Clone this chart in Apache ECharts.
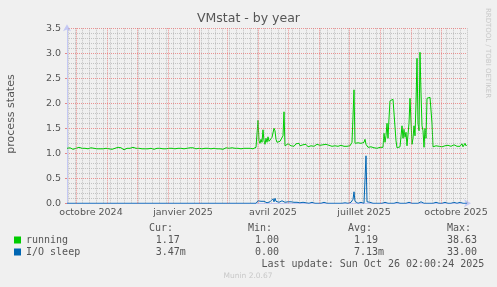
<!DOCTYPE html>
<html><head><meta charset="utf-8">
<script src="https://cdn.jsdelivr.net/npm/echarts@6/dist/echarts.min.js"></script>
<style>html,body{margin:0;padding:0;background:#f0f0f0}#c{width:497px;height:287px}</style>
</head><body><div id="c"></div><script>
// first day of the plotted range (one value per day)
const startDate = [2024, 8, 22];

// running (process states per day)
const running = [
1.10,1.09,1.10,1.11,1.09,1.10,1.08,1.10,1.11,1.10,
1.09,1.10,1.12,1.10,1.09,1.10,1.08,1.09,1.10,1.11,
1.10,1.09,1.08,1.10,1.11,1.10,1.09,1.10,1.10,1.08,
1.09,1.11,1.10,1.09,1.10,1.12,1.09,1.10,1.08,1.10,
1.11,1.10,1.09,1.10,1.09,1.08,1.10,1.11,1.10,1.09,
1.10,1.12,1.10,1.09,1.11,1.10,1.08,1.07,1.09,1.10,
1.10,1.11,1.09,1.10,1.08,1.10,1.12,1.10,1.09,1.10,
1.11,1.09,1.10,1.08,1.10,1.09,1.11,1.10,1.09,1.10,
1.08,1.09,1.10,1.11,1.10,1.09,1.07,1.08,1.09,1.10,
1.10,1.11,1.09,1.10,1.08,1.10,1.09,1.11,1.10,1.09,
1.10,1.08,1.10,1.11,1.09,1.10,1.10,1.12,1.09,1.10,
1.11,1.10,1.08,1.09,1.10,1.10,1.11,1.09,1.10,1.08,
1.10,1.09,1.10,1.11,1.10,1.09,1.11,1.12,1.10,1.09,
1.07,1.09,1.10,1.10,1.11,1.09,1.10,1.08,1.10,1.11,
1.09,1.10,1.10,1.12,1.09,1.10,1.08,1.10,1.11,1.10,
1.09,1.10,1.11,1.09,1.10,1.10,1.08,1.09,1.10,1.11,
1.10,1.09,1.10,1.08,1.10,1.11,1.10,1.09,1.10,1.12,
1.09,1.10,1.08,1.10,1.09,1.10,1.11,1.10,1.09,1.10,
1.10,1.08,1.09,1.10,1.11,1.10,1.09,1.10,1.08,1.12,
1.14,
1.66,1.25,1.20,1.28,1.22,1.47,1.25,1.18,1.30,1.22,
1.33,1.24,1.28,1.20,1.32,1.30,1.50,1.45,1.28,1.22,
1.26,1.20,1.24,1.22,1.28,1.35,1.83,
1.15,1.18,1.16,1.19,1.17,1.20,1.15,1.16,1.18,1.14,
1.17,1.19,1.16,1.18,1.20,1.15,1.13,1.16,1.17,1.14,
1.15,1.18,1.16,1.13,1.14,1.17,1.15,1.19,1.16,1.14,
1.17,1.15,1.18,1.16,1.14,1.16,1.19,1.15,1.17,1.16,
1.14,1.18,1.15,1.17,1.16,1.19,1.15,1.14,1.17,1.16,
1.15,1.18,1.16,1.14,1.17,1.15,1.16,1.13,1.12,1.14,
1.15,1.13,1.14,1.12,1.13,1.15,1.18,1.22,1.24,
2.27,
1.20,1.22,1.18,1.21,1.19,1.17,1.20,1.18,1.16,1.22,1.28,1.18,1.14,
1.12,1.10,1.11,1.13,1.10,1.12,1.11,1.09,1.12,1.10,1.13,1.11,1.12,1.10,1.13,1.12,
1.40,1.22,1.35,1.60,1.30,1.70,2.05,2.06,2.05,2.08,2.12,2.10,1.25,1.11,
1.12,1.10,1.13,1.11,
1.55,1.30,1.48,1.32,1.42,1.15,1.13,
1.60,2.10,2.08,1.18,1.30,1.55,1.35,2.00,2.90,1.60,
1.45,3.02,2.20,1.55,1.45,1.12,1.50,1.30,2.10,2.14,
2.14,2.12,2.13,1.60,1.13,
1.14,1.16,1.15,1.13,1.15,1.14,1.16,1.15,1.13,1.14,
1.16,1.15,1.14,1.15,1.16,1.17,1.15,1.14,1.16,1.15,
1.17,1.16,1.15,1.14,1.16,1.15,1.14,1.17,1.19,1.13,
1.16,1.20,1.15,1.17
];

// I/O sleep (process states per day)
const ioSleep = [
0,0,0,0,0,0,0,0,0,0, 0,0,0,0,0,0,0,0,0,0, 0,0,0,0,0,0,0,0,0,0, 0,0,0,0,0,0,0,0,0,0,
0,0,0,0,0,0,0,0,0,0, 0,0,0,0,0,0,0,0,0,0, 0,0,0,0,0,0,0,0,0,0, 0,0,0,0,0,0,0,0,0,0,
0,0,0,0,0,0,0,0,0,0, 0,0,0,0,0,0,0,0,0,0, 0,0,0,0,0,0,0,0,0,0, 0,0,0,0,0,0,0,0,0,0,
0,0,0,0,0,0,0,0,0,0, 0,0,0,0,0,0,0,0,0,0, 0,0,0,0,0,0,0,0,0,0, 0,0,0,0,0,0,0,0,0,0,
0,0,0,0,0,0,0,0,0,0, 0,0,0,0,0,0,0,0,0,0, 0,0,0,0,0,0,0,0,0,0,
0.02,0.05,0.04,0.03,0.04,0.05,0.03,0.04,0.03,0.02,
0.01,0,0.02,0.03,0.02,0.04,0.09,0.03,0.10,0.04,
0.08,0.03,0.02,0.01,0.03,0.05,0.09,0.03,0.02,0.04,
0.02,0.03,0.01,0.02,0.03,0.01,0.02,0.02,0.01,0.03,
0.02,0,0.02,0.01,0.02,
0.02,0.02,0,0,0.01,0.02,0.02,0,0,0,
0.02,0.03,0.02,0,0,0,0,0.02,0.02,0,
0,0,0.02,0.02,0.01,0,0,0,0,0.02,
0.03,0,0,0,0,0.02,0.02,0,0,0,
0,0.02,0.02,0.01,0,0,0,0,0.02,0.02,
0.03,0.08,
0.23,
0.04,0.02,0,0,0,0,0.02,0.02,0,0,0.01,
0.95,
0.03,0,0,0.02,0.02,0.02,0,0,0,0,
0,0,0,0,0,0,0,0.02,0.02,0.02,
0.02,0,0,0,0,0,0,0,0,0.02,
0.02,0.03,0.02,0,0,0,0,0,0,0,
0,0.02,0.02,0.02,0,0,0,0,0,0,
0,0,0,0.02,0.03,0.02,0.02,0,0,0,
0,0,0,0,0,0,0,0,0.02,0.02,
0.02,0,0,0,0,0,0,0.02,0.02,0.02,
0,0,0,0,0,0.02,0.02,0.02,0,0,
0,0,0,0.02,0.02,0.03,0,0,0,0,
0
];

// x tick labels (centred mid-month, as rrdtool does)
const tickLabels = {
  '2024-10-16': 'octobre 2024',
  '2025-01-16': 'janvier 2025',
  '2025-04-16': 'avril 2025',
  '2025-07-16': 'juillet 2025',
  '2025-10-16': 'octobre 2025'
};
const yTicks = [0, 0.5, 1, 1.5, 2, 2.5, 3, 3.5];

const seriesNames = ['running', 'I/O sleep'];
const seriesColors = ['#00cc00', '#0066b3'];
const statHeads = ['Cur:', 'Min:', 'Avg:', 'Max:'];
const statsRunning = ['1.17', '1.00', '1.19', '38.63'];
const statsIo = ['3.47m', '0.00', '7.13m', '33.00'];

const t0 = Date.UTC(startDate[0], startDate[1], startDate[2]);
const days = running.map((_, i) => new Date(t0 + i * 86400000));
const categories = days.map(d => d.toISOString().slice(0, 10));
const isMonthStart = i => !!days[i] && days[i].getUTCDate() === 1;
const isMonday = i => !!days[i] && days[i].getUTCDay() === 1;
const monthStarts = categories.filter((c, i) => isMonthStart(i));
const mondays = categories.filter((c, i) => isMonday(i) && !isMonthStart(i));

const mono = 'DejaVu Sans Mono';
const sans = 'DejaVu Sans';
const txt = '#555';
const statX = [149, 248, 348, 447];
const valX = [[155.7, 255, 354, 447], [155.7, 255, 354, 447]];

function t(x, y, text, font, fill, align, rot) {
  return { type: 'text', x: x, y: y, rotation: rot || 0, silent: true,
    style: { text: text, font: font, fill: fill, textAlign: align || 'left', align: align || 'left',
      textVerticalAlign: 'middle', verticalAlign: 'middle' } };
}

const graphics = [];
graphics.push(t(11, 114, 'process states', '11px ' + sans, txt, 'center', Math.PI / 2));
graphics.push(t(488, 53, 'RRDTOOL / TOBI OETIKER', '7px ' + sans, '#c8c8c8', 'center', -Math.PI / 2));
statHeads.forEach((h, k) => graphics.push(t(statX[k], 228, h, '10px ' + mono, txt)));
statsRunning.forEach((v, k) => graphics.push(t(valX[0][k], 240, v, '10px ' + mono, txt)));
statsIo.forEach((v, k) => graphics.push(t(valX[1][k], 252, v, '10px ' + mono, txt)));
graphics.push(t(261.5, 264, 'Last update: Sun Oct 26 02:00:24 2025', '10px ' + mono, txt));
graphics.push(t(248, 276.5, 'Munin 2.0.67', '7.5px ' + sans, '#c8c8c8', 'center'));

const axisCol = '#c4c8f4';
const majorGrid = { color: 'rgba(232,95,95,0.65)', type: [1, 1], width: 1 };
const minorGrid = { color: 'rgba(150,150,150,0.5)', type: [1, 1], width: 1 };
const hidden = { show: false };
const gridLineSeries = (name, list, style, z) => ({
  name: name, type: 'line', data: [], xAxisIndex: 0, z: z, silent: true,
  markLine: { silent: true, symbol: ['none', 'none'], label: { show: false }, animation: false,
    lineStyle: style, emphasis: { disabled: true }, data: list.map(m => ({ xAxis: m })) } });

const chart = echarts.init(document.getElementById('c'), null, { renderer: 'canvas' });
chart.setOption({
  backgroundColor: '#f0f0f0',
  animation: false,
  title: { text: 'VMstat - by year', left: 'center', top: 12, padding: 0,
    textStyle: { fontFamily: sans, fontSize: 12.5, fontWeight: 'normal', color: txt } },
  legend: { data: seriesNames, orient: 'vertical', left: 14, top: 234, padding: 0,
    itemWidth: 7, itemHeight: 7, itemGap: 0, icon: 'rect',
    textStyle: { fontFamily: mono, fontSize: 10, color: txt, lineHeight: 12 } },
  grid: { left: 67, right: 30, top: 28.3, bottom: 83.7, containLabel: false },
  xAxis: { type: 'category', data: categories, boundaryGap: false, position: 'bottom',
      axisLine: { show: true, lineStyle: { color: axisCol, width: 1 }, symbol: ['none', 'arrow'], symbolSize: [6, 7], symbolOffset: [0, 4] },
      axisTick: hidden,
      axisLabel: { show: true, interval: (i, v) => !!tickLabels[v], formatter: (v) => tickLabels[v] || '',
        fontFamily: sans, fontSize: 9.5, color: txt, margin: 4 },
      splitLine: hidden },
  yAxis: { type: 'value', min: yTicks[0], max: yTicks[yTicks.length - 1], interval: 0.5,
    axisLine: { show: true, lineStyle: { color: axisCol, width: 1 }, symbol: ['none', 'arrow'], symbolSize: [6, 7], symbolOffset: [0, 4] },
    axisTick: { show: true, length: 2, lineStyle: { color: 'rgba(225,110,110,0.8)' } },
    axisLabel: { formatter: (v) => v.toFixed(1), fontFamily: sans, fontSize: 9.5, color: txt, margin: 6 },
    splitLine: { show: true, lineStyle: majorGrid },
    minorTick: { show: false, splitNumber: 5 },
    minorSplitLine: { show: true, lineStyle: minorGrid } },
  graphic: graphics,
  series: [
    gridLineSeries('weekGrid', mondays, minorGrid, 1),
    gridLineSeries('monthGrid', monthStarts, majorGrid, 1),
    { name: seriesNames[0], type: 'line', data: running, xAxisIndex: 0, showSymbol: false, symbol: 'none', z: 3,
      color: seriesColors[0], lineStyle: { width: 1, color: seriesColors[0] } },
    { name: seriesNames[1], type: 'line', data: ioSleep, xAxisIndex: 0, showSymbol: false, symbol: 'none', z: 4,
      color: seriesColors[1], lineStyle: { width: 1, color: seriesColors[1] } }
  ]
});
</script></body></html>
